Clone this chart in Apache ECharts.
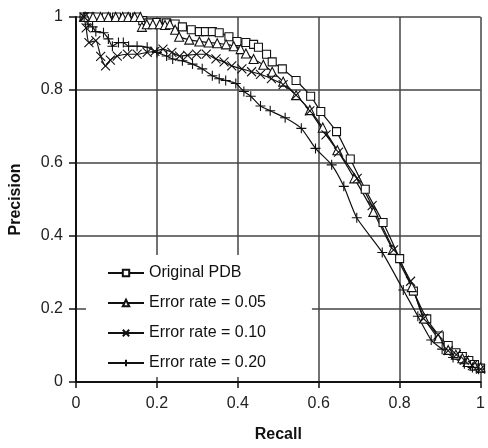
<!DOCTYPE html>
<html>
<head>
<meta charset="utf-8">
<script src="https://cdn.jsdelivr.net/npm/echarts@6/dist/echarts.min.js"></script>
<style>
html,body{margin:0;padding:0;background:#fff;}
#chart{width:488px;height:448px;}
</style>
</head>
<body>
<div id="chart"></div>
<script>
// Series names
var seriesNames = ['Original PDB', 'Error rate = 0.05', 'Error rate = 0.10', 'Error rate = 0.20'];

// [recall, precision]
var originalPDB = [
  [0.02,1.0],[0.03,1.0],[0.035,1.0],[0.05,1.0],[0.075,1.0],[0.1,1.0],[0.125,1.0],[0.15,1.0],
  [0.165,0.99],[0.18,0.984],[0.2,0.985],[0.224,0.984],[0.245,0.981],[0.263,0.973],[0.285,0.965],
  [0.305,0.96],[0.32,0.96],[0.337,0.96],[0.354,0.957],[0.378,0.946],[0.398,0.933],[0.42,0.93],
  [0.439,0.925],[0.451,0.917],[0.471,0.898],[0.485,0.877],[0.51,0.858],[0.544,0.826],[0.58,0.783],
  [0.605,0.741],[0.644,0.686],[0.678,0.611],[0.715,0.528],[0.759,0.437],[0.8,0.338],[0.834,0.249],
  [0.867,0.173],[0.898,0.126],[0.92,0.1],[0.939,0.08],[0.955,0.07],[0.971,0.059],[0.985,0.048],[1.0,0.038]
];
var errorRate005 = [
  [0.02,1.0],[0.024,1.0],[0.042,1.0],[0.061,1.0],[0.08,1.0],[0.098,1.0],[0.115,1.0],[0.129,1.0],
  [0.145,1.0],[0.159,1.0],[0.163,0.973],[0.175,0.98],[0.19,0.98],[0.207,0.98],[0.22,0.978],
  [0.232,0.98],[0.245,0.965],[0.255,0.946],[0.28,0.938],[0.305,0.933],[0.328,0.93],[0.349,0.928],
  [0.371,0.925],[0.39,0.92],[0.407,0.912],[0.42,0.9],[0.439,0.885],[0.463,0.869],[0.485,0.85],
  [0.512,0.823],[0.544,0.786],[0.578,0.745],[0.61,0.697],[0.646,0.635],[0.688,0.558],[0.735,0.466],
  [0.783,0.362],[0.83,0.26],[0.861,0.174],[0.895,0.12],[0.92,0.088],[0.939,0.075],[0.955,0.065],
  [0.968,0.055],[0.985,0.045],[1.0,0.04]
];
var errorRate010 = [
  [0.02,1.0],[0.025,0.97],[0.032,0.93],[0.049,0.935],[0.061,0.892],[0.073,0.866],[0.085,0.882],
  [0.102,0.893],[0.127,0.898],[0.151,0.898],[0.176,0.903],[0.195,0.906],[0.215,0.912],[0.237,0.903],
  [0.256,0.893],[0.276,0.895],[0.298,0.898],[0.322,0.898],[0.346,0.885],[0.366,0.877],[0.385,0.866],
  [0.41,0.858],[0.434,0.85],[0.456,0.843],[0.483,0.831],[0.512,0.815],[0.544,0.786],[0.578,0.743],
  [0.618,0.677],[0.649,0.63],[0.695,0.558],[0.732,0.483],[0.785,0.362],[0.827,0.276],[0.859,0.174],
  [0.895,0.129],[0.92,0.086],[0.94,0.075],[0.96,0.06],[0.98,0.045],[1.0,0.035]
];
var errorRate020 = [
  [0.02,1.0],[0.03,0.98],[0.041,0.973],[0.049,0.96],[0.068,0.957],[0.08,0.94],[0.09,0.92],
  [0.105,0.93],[0.117,0.93],[0.13,0.92],[0.151,0.92],[0.176,0.917],[0.2,0.903],[0.224,0.893],
  [0.239,0.885],[0.263,0.88],[0.288,0.871],[0.312,0.858],[0.337,0.839],[0.354,0.831],[0.37,0.826],
  [0.395,0.818],[0.415,0.796],[0.432,0.783],[0.456,0.756],[0.48,0.743],[0.517,0.724],[0.557,0.695],
  [0.592,0.64],[0.632,0.595],[0.662,0.536],[0.694,0.45],[0.757,0.355],[0.809,0.252],[0.845,0.18],
  [0.878,0.115],[0.905,0.09],[0.932,0.067],[0.96,0.05],[0.98,0.04],[0.995,0.035]
];

var xTicks = [0, 0.2, 0.4, 0.6, 0.8, 1];
var yTicks = [0, 0.2, 0.4, 0.6, 0.8, 1];

var FONT = 'Liberation Sans';
var crossPath = 'path://M0,0L10,10M10,0L0,10';
var plusPath = 'path://M5,0L5,10M0,5L10,5';

function mkSeries(name, data, symbol, size) {
  return {
    name: name,
    type: 'line',
    data: data,
    symbol: symbol,
    symbolSize: size,
    showAllSymbol: true,
    smooth: 0.2,
    lineStyle: {color: '#111', width: 1.2},
    itemStyle: {color: '#fff', borderColor: '#111', borderWidth: 1.1},
    emphasis: {disabled: true}
  };
}

var chart = echarts.init(document.getElementById('chart'), null, {renderer: 'canvas'});
chart.setOption({
  animation: false,
  backgroundColor: '#fff',
  grid: {left: 75, right: 3, top: 17, bottom: 58},
  xAxis: {
    type: 'value', min: xTicks[0], max: xTicks[xTicks.length - 1], interval: 0.2,
    name: 'Recall', nameLocation: 'middle', nameGap: 45,
    nameTextStyle: {fontFamily: FONT, fontSize: 16, fontWeight: 'bold', color: '#111'},
    axisLine: {show: true, lineStyle: {color: '#111', width: 2}},
    axisTick: {show: true, length: 6, lineStyle: {color: '#111', width: 1.5}},
    axisLabel: {fontFamily: FONT, fontSize: 16, color: '#222', margin: 14},
    splitLine: {show: true, lineStyle: {color: '#444', width: 1.5}}
  },
  yAxis: {
    type: 'value', min: yTicks[0], max: yTicks[yTicks.length - 1], interval: 0.2,
    name: 'Precision', nameLocation: 'middle', nameGap: 52,
    nameTextStyle: {fontFamily: FONT, fontSize: 16, fontWeight: 'bold', color: '#111'},
    axisLine: {show: true, lineStyle: {color: '#111', width: 2}},
    axisTick: {show: true, length: 7, lineStyle: {color: '#111', width: 1.5}},
    axisLabel: {fontFamily: FONT, fontSize: 16, color: '#222', margin: 13},
    splitLine: {show: true, lineStyle: {color: '#444', width: 1.5}}
  },
  legend: {
    orient: 'vertical', left: 86, top: 255,
    padding: [10, 46, 6, 21],
    backgroundColor: '#fff',
    itemWidth: 36, itemHeight: 8, itemGap: 14,
    textStyle: {fontFamily: FONT, fontSize: 16, color: '#111', lineHeight: 16},
    data: seriesNames
  },
  series: [
    mkSeries(seriesNames[0], originalPDB, 'rect', 8),
    mkSeries(seriesNames[1], errorRate005, 'triangle', 9),
    mkSeries(seriesNames[2], errorRate010, crossPath, 9),
    mkSeries(seriesNames[3], errorRate020, plusPath, 10)
  ]
});
</script>
</body>
</html>
